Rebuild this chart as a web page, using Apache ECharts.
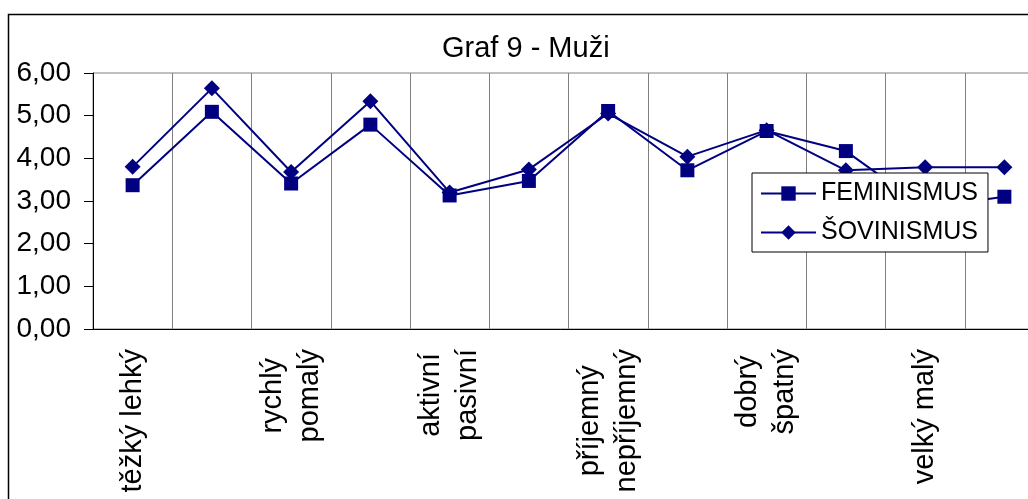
<!DOCTYPE html>
<html>
<head>
<meta charset="utf-8">
<script src="https://cdn.jsdelivr.net/npm/echarts@6/dist/echarts.min.js"></script>
<style>
  html, body { margin: 0; padding: 0; background: #fff; overflow: hidden; }
  #chart { width: 1028px; height: 499px; }
</style>
</head>
<body>
<div id="chart"></div>
<script>
// categories (Excel only shows every other label, the rest are blank here)
const categories = ['těžký lehký', '', 'rychlý\npomalý', '', 'aktivní\npasivní', '',
  'příjemný\nnepříjemný', '', 'dobrý\nšpatný', '', 'velký malý', '']
const feminismus = [3.37, 5.09, 3.41, 4.79, 3.13, 3.47, 5.11, 3.72, 4.64, 4.17, 2.84, 3.10]
const sovinismus = [3.80, 5.64, 3.68, 5.34, 3.20, 3.74, 5.05, 4.04, 4.66, 3.72, 3.79, 3.79]
const yTicks = [0, 1, 2, 3, 4, 5, 6]

const FONT = "'Liberation Sans', Arial, sans-serif"
const NAVY = '#000080'

const chart = echarts.init(document.getElementById('chart'))

const option = {
  animation: false,
  backgroundColor: '#fff',
  textStyle: { fontFamily: FONT },
  graphic: [{
    type: 'rect',
    z: -10,
    shape: { x: 8.5, y: 14.5, width: 1100, height: 600 },
    style: { fill: 'none', stroke: '#000', lineWidth: 1.5 }
  }],
  title: {
    text: 'Graf 9 - Muži',
    left: 442,
    top: 34,
    padding: 0,
    textStyle: { fontFamily: FONT, fontSize: 29, fontWeight: 'normal', color: '#000' }
  },
  legend: {
    data: ['FEMINISMUS', 'ŠOVINISMUS'],
    orient: 'vertical',
    left: 752,
    top: 173,
    padding: [8, 10, 7, 8],
    itemWidth: 55,
    itemHeight: 18,
    itemGap: 14,
    backgroundColor: '#fff',
    borderColor: '#000',
    borderWidth: 1,
    textStyle: { fontFamily: FONT, fontSize: 25, color: '#000' }
  },
  grid: {
    left: 93,
    top: 73,
    width: 951,
    height: 256,
    outerBoundsMode: 'none',
    show: true,
    borderColor: '#808080',
    borderWidth: 1
  },
  xAxis: {
    type: 'category',
    data: categories,
    boundaryGap: true,
    axisLine: { lineStyle: { color: '#000', width: 1 } },
    axisTick: { interval: 0, length: 7, lineStyle: { color: '#000' } },
    splitLine: { show: true, interval: 0, lineStyle: { color: '#808080', width: 1 } },
    axisLabel: {
      interval: 0,
      rotate: 90,
      margin: 20,
      hideOverlap: false,
      formatter: v => v.split('\n').map(s => '{c|' + s + '}').join('\n'),
      rich: {
        c: { align: 'center', fontFamily: FONT, fontSize: 29, lineHeight: 37, color: '#000' }
      }
    }
  },
  yAxis: {
    type: 'value',
    min: yTicks[0],
    max: yTicks[yTicks.length - 1],
    interval: 1,
    axisLine: { show: true, lineStyle: { color: '#000', width: 1 } },
    axisTick: { show: true, length: 9, lineStyle: { color: '#000' } },
    splitLine: { show: false },
    axisLabel: {
      margin: 22,
      fontFamily: FONT,
      fontSize: 28,
      color: '#000',
      formatter: v => v.toFixed(2).replace('.', ',')
    }
  },
  series: [
    {
      name: 'ŠOVINISMUS',
      type: 'line',
      data: sovinismus,
      z: 2,
      symbol: 'diamond',
      symbolSize: 16,
      color: NAVY,
      itemStyle: { color: NAVY },
      lineStyle: { color: NAVY, width: 2 }
    },
    {
      name: 'FEMINISMUS',
      type: 'line',
      data: feminismus,
      z: 3,
      symbol: 'rect',
      symbolSize: 14,
      color: NAVY,
      itemStyle: { color: NAVY },
      lineStyle: { color: NAVY, width: 2 }
    }
  ]
}

chart.setOption(option)
</script>
</body>
</html>
